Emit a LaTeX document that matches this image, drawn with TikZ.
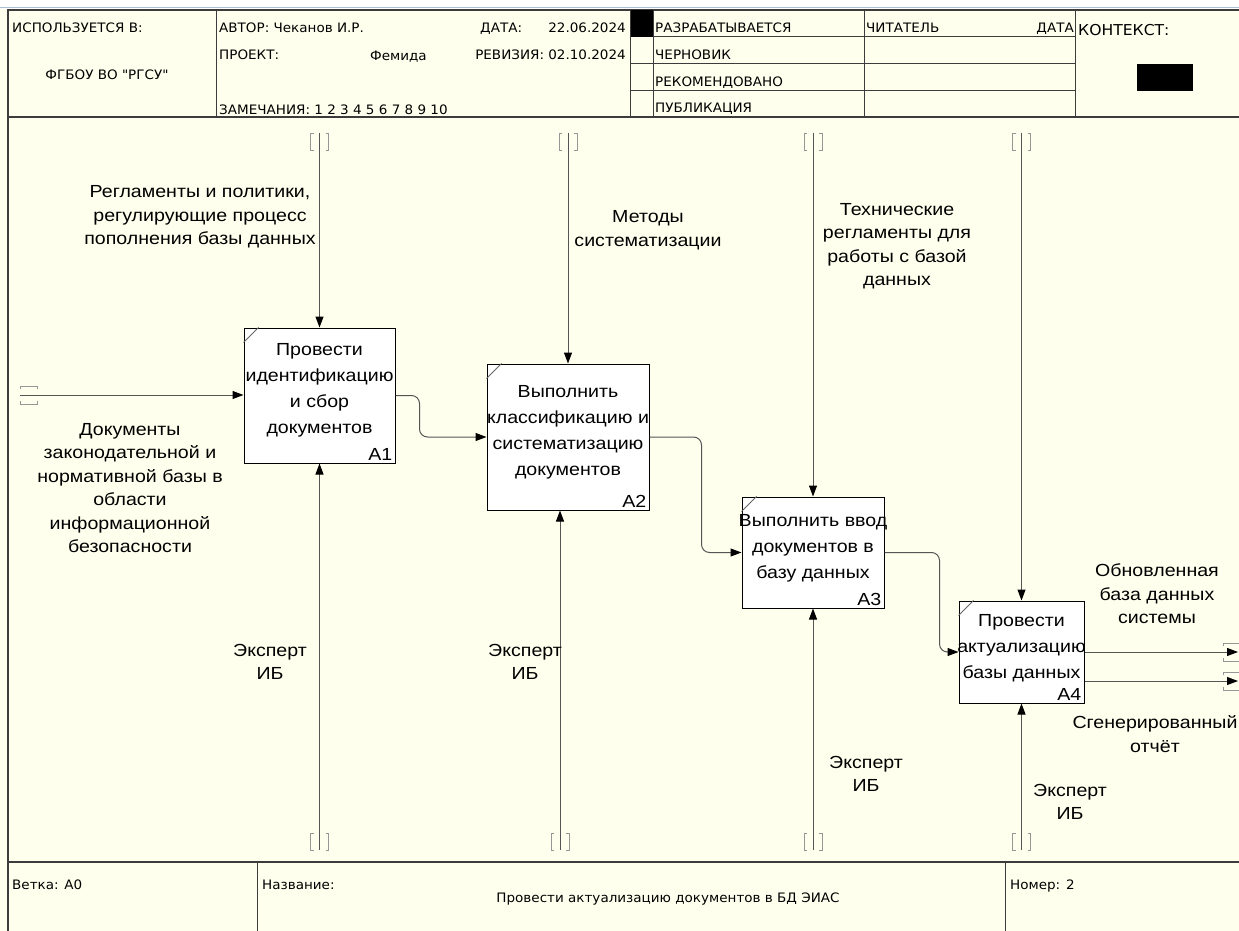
\documentclass[tikz,border=0pt]{standalone}
\usepackage{fontspec}
\setmainfont{Liberation Sans}[FakeStretch=1.12]
\newfontfamily\hdrfont{DejaVu Sans}[FakeStretch=1.04]
\usetikzlibrary{arrows.meta,calc}
\definecolor{cream}{RGB}{255,255,238}
\definecolor{framec}{RGB}{60,60,60}
\definecolor{linec}{RGB}{85,85,85}
\definecolor{tunc}{RGB}{150,150,150}
\definecolor{topblue}{RGB}{170,190,215}
\tikzset{
  hdr/.style={font=\hdrfont\fontsize{13}{15}\selectfont, inner sep=0pt, anchor=base west},
  hdrc/.style={hdr, anchor=base},
  hdre/.style={hdr, anchor=base east},
  proc/.style={draw=black, line width=1pt, fill=white, inner sep=0pt},
  ptext/.style={font=\fontsize{17.5}{26}\selectfont, align=center, inner sep=0pt},
  pnum/.style={font=\fontsize{17.5}{20}\selectfont, inner sep=3pt, anchor=south east},
  lbl/.style={font=\fontsize{17.5}{23.5}\selectfont, align=center, inner sep=0pt},
  conn/.style={draw=linec, line width=1pt, -{Triangle[length=11pt,width=8pt,color=black,fill=black]}},
  tick/.style={draw=black!60, line width=0.8pt},
  vtun/.pic={\draw[tunc, line width=0.9pt] (-6,0) -- (-9,0) -- (-9,17) -- (-6,17)
                (6,0) -- (9,0) -- (9,17) -- (6,17);},
  htun/.pic={\draw[tunc, line width=0.9pt] (0,-6) -- (0,-9) -- (17,-9) -- (17,-6)
                (0,6) -- (0,9) -- (17,9) -- (17,6);},
  rtun/.pic={\draw[tunc, line width=0.9pt] (0,-6) -- (0,-9) -- (20,-9)
                (0,6) -- (0,9) -- (20,9);},
}
\begin{document}
\begin{tikzpicture}[x=1pt,y=-1pt]
\useasboundingbox (0,0) rectangle (1239,931);
% background
\fill[white] (0,0) rectangle (1239,9);
\fill[cream] (0,9) rectangle (1239,931);
\draw[topblue, line width=1pt] (0,8) -- (1239,8);
% frame
\draw[framec, line width=1.3pt] (8,931) -- (8,10) -- (1239,10);
\draw[framec, line width=1.1pt] (8,117) -- (1239,117);
\draw[framec, line width=1.1pt] (8,862) -- (1239,862);
% header grid
\draw[framec, line width=1pt] (216,10) -- (216,117)
  (630,10) -- (630,117) (653,10) -- (653,117) (864,10) -- (864,117) (1075,10) -- (1075,117)
  (630,37) -- (1075,37) (630,64) -- (1075,64) (630,91) -- (1075,91);
\fill[black] (631,10) rectangle (653,37);
\fill[black] (1137,64) rectangle (1193,91);
% footer grid
\draw[framec, line width=1pt] (257,862) -- (257,931) (1005,862) -- (1005,931);
% header texts
\node[hdr] (h1) at (12,33) {ИСПОЛЬЗУЕТСЯ В:};
\node[hdrc] (h2) at (107,80) {ФГБОУ ВО "РГСУ"};
\node[hdr] (h3) at (219,33) {АВТОР: Чеканов И.Р.};
\node[hdr] (h4) at (219,60) {ПРОЕКТ:};
\node[hdr] (h5) at (370,61) {Фемида};
\node[hdr] (h6) at (219,115) {ЗАМЕЧАНИЯ: 1 2 3 4 5 6 7 8 9 10};
\node[hdr] (h7) at (480,33) {ДАТА:};
\node[hdre] (h8) at (626,33) {22.06.2024};
\node[hdre] (h9) at (626,60) {РЕВИЗИЯ: 02.10.2024};
\node[hdr] (h10) at (655,33) {РАЗРАБАТЫВАЕТСЯ};
\node[hdr] (h11) at (655,60) {ЧЕРНОВИК};
\node[hdr] (h12) at (655,87) {РЕКОМЕНДОВАНО};
\node[hdr] (h13) at (655,113) {ПУБЛИКАЦИЯ};
\node[hdr] (h14) at (866,33) {ЧИТАТЕЛЬ};
\node[hdre] (h15) at (1074,33) {ДАТА};
\node[hdr, font=\hdrfont\fontsize{15}{17}\selectfont] (h16) at (1078,36) {КОНТЕКСТ:};
% footer texts
\node[hdr] (f1) at (12,889) {Ветка: A0};
\node[hdr] (f2) at (262,889) {Название:};
\node[hdrc] (f3) at (668,902) {Провести актуализацию документов в БД ЭИАС};
\node[hdr] (f4) at (1010,889) {Номер: 2};
% boxes
\node[proc, minimum width=151pt, minimum height=135pt] (A1) at (319.5,395.5) {};
\node[proc, minimum width=162pt, minimum height=146pt] (A2) at (568,437) {};
\node[proc, minimum width=142pt, minimum height=111pt] (A3) at (813,552.5) {};
\node[proc, minimum width=125pt, minimum height=102pt] (A4) at (1021.5,652) {};
\foreach \b in {A1,A2,A3,A4}{
  \draw[tick] (\b.north west) ++(0,15) -- ++(15,-15);
  \node[pnum] (\b n) at (\b.south east) {\b};
}
\node[ptext] (A1t) at (319.5,390) {Провести\\идентификацию\\и сбор\\документов};
\node[ptext] (A2t) at (568,432) {Выполнить\\классификацию и\\систематизацию\\документов};
\node[ptext] (A3t) at (813,548) {Выполнить ввод\\документов в\\базу данных};
\node[ptext] (A4t) at (1021.5,648) {Провести\\актуализацию\\базы данных};
% tunnels and free ends
\coordinate (in1) at (20,395);
\pic at (20,395) {htun};
\coordinate (c1) at (319.5,133);
\coordinate (c2) at (568,133);
\coordinate (c3) at (813,133);
\coordinate (c4) at (1021.5,133);
\coordinate (m1) at (319.5,850);
\coordinate (m2) at (560,850);
\coordinate (m3) at (813,850);
\coordinate (m4) at (1021.5,850);
\foreach \c in {c1,c2,c3,c4}{\pic at (\c) {vtun};}
\foreach \c in {m1,m2,m3,m4}{\pic at ($(\c)+(0,-17)$) {vtun};}
\coordinate (o1) at (1238,652);
\coordinate (o2) at (1238,681);
\pic at (1223,652) {rtun};
\pic at (1223,681) {rtun};
% connectors
\draw[conn] (in1) -- (A1.west |- in1);
\draw[conn] (c1) -- (A1.north);
\draw[conn] (c2) -- (A2.north);
\draw[conn] (c3) -- (A3.north);
\draw[conn] (c4) -- (A4.north);
\draw[conn] (m1) -- (A1.south);
\draw[conn] (m2) -- (A2.south -| m2);
\draw[conn] (m3) -- (A3.south);
\draw[conn] (m4) -- (A4.south);
\draw[conn, rounded corners=8pt] (A1.east) -- ++(24,0) |- (A2.west);
\draw[conn, rounded corners=8pt] (A2.east) -- ++(52,0) |- (A3.west);
\draw[conn, rounded corners=8pt] (A3.east) -- ++(55,0) |- (A4.west);
\draw[conn] (A4.east) -- (o1);
\draw[conn] (A4.east |- o2) -- (o2);
% labels
\node[lbl] (Lin) at (130,488) {Документы\\законодательной и\\нормативной базы в\\области\\информационной\\безопасности};
\node[lbl] (Lc1) at (200,217) {Регламенты и политики,\\регулирующие процесс\\пополнения базы данных};
\node[lbl] (Lc2) at (648,230) {Методы\\систематизации};
\node[lbl] (Lc3) at (897,246) {Технические\\регламенты для\\работы с базой\\данных};
\node[lbl] (Lm1) at (270,662) {Эксперт\\ИБ};
\node[lbl] (Lm2) at (525,662) {Эксперт\\ИБ};
\node[lbl] (Lm3) at (866,774) {Эксперт\\ИБ};
\node[lbl] (Lm4) at (1070,802) {Эксперт\\ИБ};
\node[lbl] (Lo1) at (1157,594) {Обновленная\\база данных\\системы};
\node[lbl] (Lo2) at (1155,734) {Сгенерированный\\отчёт};
\end{tikzpicture}
\end{document}
